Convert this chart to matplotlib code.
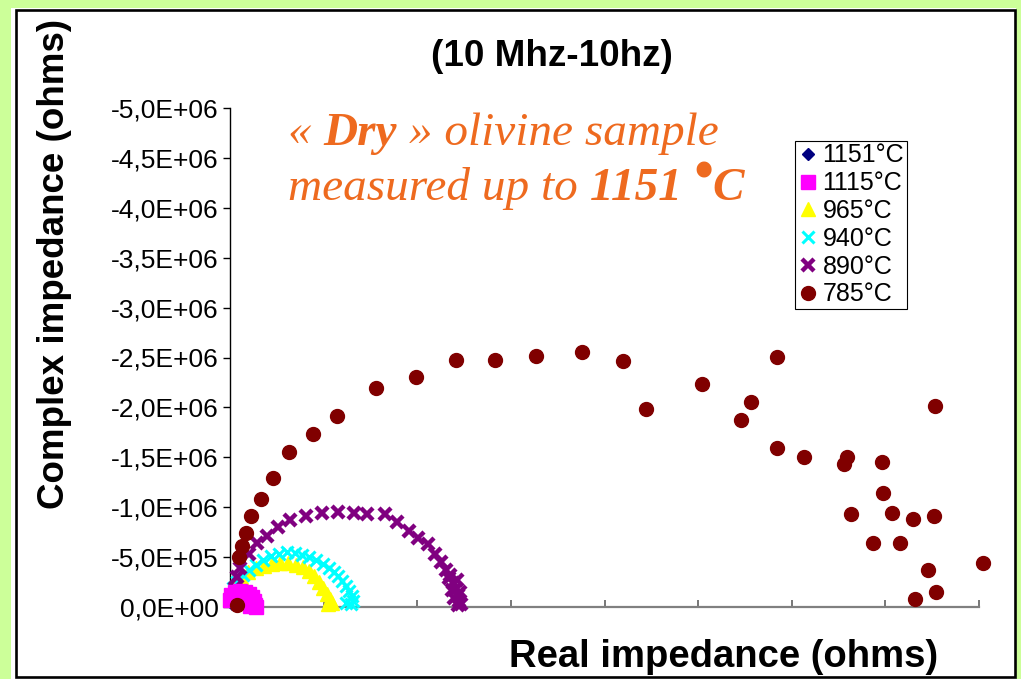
"""Nyquist plot of a dry olivine sample, 10 MHz - 10 Hz, several temperatures."""
import matplotlib
matplotlib.use("Agg")
import matplotlib.pyplot as plt
from matplotlib.patches import Rectangle
from matplotlib.ticker import FuncFormatter, MultipleLocator
import numpy as np

W, H = 1021, 679
SANS = "Liberation Sans"
SERIF = "Liberation Serif"
ORANGE = "#EE6A1F"

# values in units of 1e6 ohms (real, imaginary)
T1151_RE = [0.02, 0.04]
T1151_IM = [-0.03, -0.05]

T1115_RE = [0.00, 0.01, 0.05, 0.11, 0.16, 0.20, 0.24, 0.26, 0.27, 0.28, 0.21]
T1115_IM = [-0.07, -0.12, -0.15, -0.16, -0.15, -0.13, -0.10, -0.06, -0.02, 0.00, -0.01]

T965_RE = [0.00, 0.01, 0.05, 0.12, 0.19, 0.28, 0.36, 0.45, 0.53, 0.62,
           0.71, 0.78, 0.84, 0.90, 0.95, 0.99, 1.04, 1.07, 1.09, 1.05]
T965_IM = [-0.09, -0.17, -0.24, -0.30, -0.35, -0.39, -0.41, -0.43, -0.44, -0.44,
           -0.42, -0.40, -0.36, -0.31, -0.25, -0.19, -0.13, -0.08, -0.04, -0.03]

T940_RE = [0.03, 0.07, 0.14, 0.20, 0.28, 0.35, 0.44, 0.52, 0.61, 0.69, 0.77, 0.84,
           0.92, 0.99, 1.06, 1.11, 1.15, 1.20, 1.24, 1.27, 1.30, 1.31, 1.29, 1.24]
T940_IM = [-0.19, -0.25, -0.32, -0.37, -0.42, -0.47, -0.51, -0.53, -0.55, -0.54, -0.52, -0.50,
           -0.47, -0.43, -0.39, -0.35, -0.31, -0.26, -0.21, -0.16, -0.11, -0.06, -0.03, -0.04]

T890_RE = [0.05, 0.07, 0.11, 0.20, 0.29, 0.40, 0.51, 0.64, 0.81, 0.98, 1.15, 1.32,
           1.46, 1.66, 1.78, 1.91, 2.01, 2.12, 2.19, 2.25, 2.31, 2.34, 2.38, 2.40,
           2.44, 2.45, 2.44, 2.35, 2.42, 2.37, 2.46, 2.39, 2.47]
T890_IM = [-0.19, -0.30, -0.39, -0.53, -0.64, -0.71, -0.80, -0.87, -0.91, -0.94, -0.95, -0.94,
           -0.93, -0.93, -0.85, -0.76, -0.69, -0.63, -0.53, -0.45, -0.37, -0.29, -0.24, -0.17,
           -0.12, -0.06, -0.02, -0.32, -0.27, -0.17, -0.15, -0.09, -0.03]

T785_RE = [0.08, 0.10, 0.13, 0.17, 0.22, 0.33, 0.46, 0.63, 0.89, 1.14, 1.56, 1.99,
           2.41, 2.83, 3.27, 3.76, 4.20, 4.44, 5.04, 5.57, 5.46, 5.84, 5.84, 6.13,
           6.59, 6.56, 6.96, 6.97, 6.63, 7.07, 7.30, 7.52, 7.53, 6.87, 7.16, 7.46,
           8.04, 7.32, 7.54]
T785_IM = [-0.02, -0.50, -0.61, -0.74, -0.91, -1.08, -1.29, -1.55, -1.73, -1.91, -2.19, -2.30,
           -2.47, -2.47, -2.52, -2.56, -2.46, -1.98, -2.23, -2.05, -1.87, -2.51, -1.59, -1.50,
           -1.50, -1.43, -1.45, -1.14, -0.93, -0.94, -0.88, -0.91, -2.01, -0.64, -0.64, -0.37,
           -0.44, -0.08, -0.15]

SERIES = [
    ("1151°C", T1151_RE, T1151_IM, dict(marker="D", color="#000080", ms=6), 3),
    ("1115°C", T1115_RE, T1115_IM, dict(marker="s", color="#FF00FF", ms=9.5), 6),
    ("965°C", T965_RE, T965_IM, dict(marker="^", color="#FFFF00", ms=10), 3),
    ("940°C", T940_RE, T940_IM, dict(marker="x", color="#00FFFF", ms=8, mew=2.2), 4),
    ("890°C", T890_RE, T890_IM, dict(marker="x", color="#800080", ms=8, mew=3.2), 5),
    ("785°C", T785_RE, T785_IM, dict(marker="o", color="#800000", ms=10), 7),
]

fig = plt.figure(figsize=(W / 100, H / 100), dpi=100, facecolor="#CCFF99")

# white panel with black frame
fig.patches.append(Rectangle((11 / W, 0), 1005 / W, 671 / H, transform=fig.transFigure,
                             facecolor="white", edgecolor="none", zorder=-2))
fig.patches.append(Rectangle((15.5 / W, 2 / H), 999 / W, 667 / H, transform=fig.transFigure,
                             facecolor="none", edgecolor="black", lw=1.9, zorder=-1))

ax = fig.add_axes([230 / W, 1 - 607 / H, 749 / W, 499 / H])
ax.set_facecolor("none")
ax.set_zorder(2)

for label, re, im, style, z in SERIES:
    ax.plot(np.array(re) * 1e6, np.array(im) * 1e6, ls="none", label=label,
            clip_on=False, zorder=z, **style)

ax.set_xlim(0, 8e6)
ax.set_ylim(0, -5e6)
ax.xaxis.set_major_locator(MultipleLocator(1e6))
ax.yaxis.set_major_locator(MultipleLocator(5e5))
ax.yaxis.set_major_formatter(FuncFormatter(lambda v, p: f"{v + 0.0:.1E}".replace(".", ",")))
ax.tick_params(axis="x", direction="in", length=5, width=1.2, color="#606060", labelbottom=False)
ax.tick_params(axis="y", direction="out", length=5, width=1, color="black",
               labelsize=19, pad=3)
for t in ax.get_yticklabels():
    t.set_fontfamily(SANS)
ax.spines["top"].set_visible(False)
ax.spines["right"].set_visible(False)
ax.spines["bottom"].set_color("#808080")
ax.spines["bottom"].set_linewidth(1.6)
ax.spines["left"].set_linewidth(1)

fig.text(552 / W, 1 - 57 / H, "(10 Mhz-10hz)", ha="center", va="center",
         fontsize=26.5, fontweight="bold", family=SANS)
fig.text(724 / W, 1 - 657 / H, "Real impedance (ohms)", ha="center", va="center",
         fontsize=27.5, fontweight="bold", family=SANS)
fig.text(55 / W, 1 - 264 / H, "Complex impedance (ohms)", ha="center", va="center",
         rotation=90, fontsize=26.5, fontweight="bold", family=SANS)

leg = ax.legend(loc="upper left", bbox_to_anchor=(795 / W, 1 - 141 / H),
                bbox_transform=fig.transFigure, frameon=True, fancybox=False,
                framealpha=1, edgecolor="black", borderpad=0.1, labelspacing=0.15,
                handlelength=0.8, handletextpad=0.2, borderaxespad=0,
                prop={"family": SANS, "size": 18})
leg.get_frame().set_linewidth(0.8)

# orange annotation, pieces drawn one after another
renderer = fig.canvas.get_renderer()


def write_line(x0, y0, pieces):
    x = x0
    for txt, bold, dy, size in pieces:
        t = fig.text(x / W, 1 - (y0 - dy) / H, txt, color=ORANGE, fontsize=size,
                     family=SERIF, style="italic",
                     fontweight="bold" if bold else "normal", va="baseline")
        x += t.get_window_extent(renderer).width


write_line(288, 145, [("« ", False, 0, 34), ("Dry", True, 0, 34),
                      (" » olivine sample", False, 0, 34)])
write_line(288, 200, [("measured up to ", False, 0, 34), ("1151 ", True, 0, 34),
                      ("•", True, 11, 40), ("C", True, 0, 34)])

fig.savefig("out.png", dpi=100, facecolor=fig.get_facecolor())
